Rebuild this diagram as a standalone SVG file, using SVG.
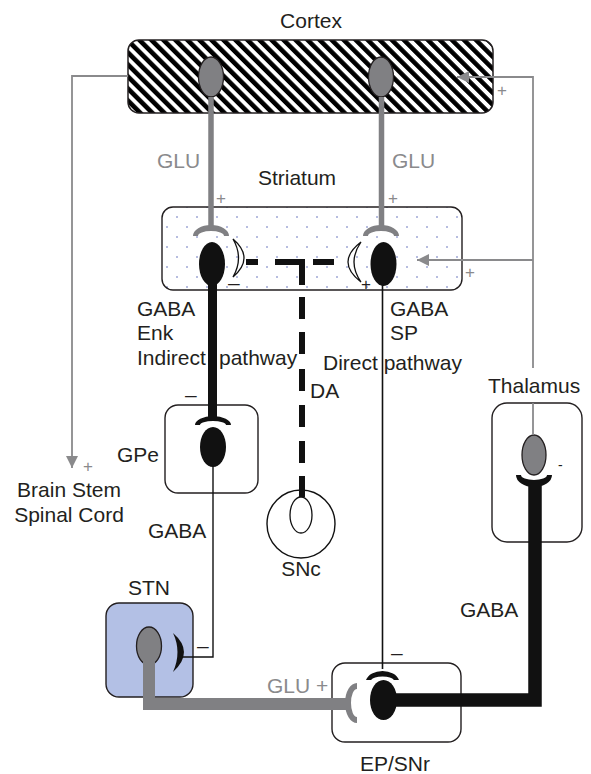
<svg xmlns="http://www.w3.org/2000/svg" width="591" height="774" viewBox="0 0 591 774">
<style>
text{font-family:"Liberation Sans",Arial,sans-serif;font-size:21px;fill:#231f20}
.g{fill:#8a8a8c}
.sm{font-size:17px}
.box{fill:#fff;stroke:#231f20;stroke-width:1.4}
.gn{fill:#808083;stroke:#231f20;stroke-width:1.3}
.bn{fill:#111;stroke:none}
.gl{fill:none;stroke:#8a8a8c;stroke-width:1.8}
.gc{fill:#808083}
.bc{fill:#111}
.wc{fill:#fff;stroke:#111;stroke-width:1.3}
</style>
<defs>
<pattern id="hatch" patternUnits="userSpaceOnUse" width="8.5" height="8.5" patternTransform="rotate(-45)">
<rect width="8.5" height="8.5" fill="#fff"/><rect width="4.6" height="8.5" fill="#000"/>
</pattern>
<pattern id="dots" patternUnits="userSpaceOnUse" width="20" height="20" x="2" y="2">
<rect width="20" height="20" fill="#fff"/><rect x="4" y="4" width="2" height="2" fill="#b7bde0"/><rect x="14" y="14" width="2" height="2" fill="#b7bde0"/>
</pattern>
<marker id="ga" viewBox="0 0 12 12" refX="12" refY="6" markerWidth="12" markerHeight="12" markerUnits="userSpaceOnUse" orient="auto">
<path d="M0,0 L12,6 L0,12 Z" fill="#8a8a8c"/>
</marker>
</defs>

<g id="cortex">
<rect x="128" y="40" width="365" height="73" rx="11" fill="url(#hatch)" stroke="#231f20" stroke-width="1.5"/>
<ellipse class="gn" cx="211" cy="77" rx="12.5" ry="20"/>
<ellipse class="gn" cx="381" cy="77" rx="12.5" ry="20"/>
<text x="311" y="28" text-anchor="middle">Cortex</text>
</g>

<g id="striatum">
<rect x="162" y="207" width="300" height="83" rx="11" fill="url(#dots)" stroke="#231f20" stroke-width="1.4"/>
<path class="gc" d="M193,236 A18,11 0 0 1 229,236 L224,236 A13,5 0 0 0 198,236 Z"/>
<path class="gc" d="M363,236 A18,11 0 0 1 399,236 L394,236 A13,5 0 0 0 368,236 Z"/>
<ellipse class="bn" cx="212" cy="264" rx="13" ry="22"/>
<ellipse class="bn" cx="383.5" cy="264" rx="13" ry="22"/>
<path class="wc" d="M233,239 Q255,258 233,277 Q244,258 233,239 Z"/>
<path class="wc" d="M361,242 Q335,262 361,282 Q347,262 361,242 Z"/>
<text x="297" y="185" text-anchor="middle">Striatum</text>
<text x="228" y="290">–</text>
<text x="361" y="290" class="sm">+</text>
</g>

<g id="gpe">
<rect class="box" x="165" y="405" width="93" height="88" rx="13"/>
<path class="bc" d="M195,425 A18,9 0 0 1 231,425 L226,425 A13,4 0 0 0 200,425 Z"/>
<ellipse class="bn" cx="213" cy="447" rx="13" ry="20"/>
<text x="117" y="462">GPe</text>
</g>

<g id="snc">
<circle cx="301" cy="524" r="34" fill="#fff" stroke="#111" stroke-width="1.4"/>
<ellipse cx="301" cy="515" rx="11" ry="18" fill="#fff" stroke="#111" stroke-width="1.3"/>
<text x="301" y="576" text-anchor="middle">SNc</text>
</g>

<g id="thalamus">
<rect class="box" x="492" y="403" width="90" height="139" rx="15"/>
<ellipse class="gn" cx="534" cy="455" rx="12" ry="20"/>
<path class="bc" d="M516,475 A18,12 0 0 0 552,475 L547,475 A13,5 0 0 1 521,475 Z"/>
<text x="488" y="393">Thalamus</text>
<text x="558" y="470" style="font-size:14px">-</text>
</g>

<g id="stn">
<rect x="106" y="603" width="87" height="94" rx="13" fill="#b3c0e5" stroke="#231f20" stroke-width="1.4"/>
<ellipse class="gn" cx="149" cy="646" rx="12.5" ry="19"/>
<path class="bc" d="M173,633 Q195,652 173,672 Q182,652 173,633 Z"/>
<text x="128" y="595">STN</text>
</g>

<g id="ep-snr">
<rect class="box" x="332" y="663" width="129" height="79" rx="13"/>
<path class="bc" d="M366,680 A17,12 0 0 1 399,680 L394,680 A12,5 0 0 0 371,680 Z"/>
<ellipse class="bn" cx="383.5" cy="700" rx="13.5" ry="20"/>
<path class="gc" d="M357,683 A12,20 0 0 0 357,723 L357,717 A6,14 0 0 1 357,689 Z"/>
<text x="395" y="771" text-anchor="middle">EP/SNr</text>
</g>

<g id="connectors">
<path class="gl" d="M128,76 H72 V468" marker-end="url(#ga)"/>
<path class="gl" d="M533,368 V77 H457" marker-end="url(#ga)"/>
<path class="gl" d="M533,260 H417" marker-end="url(#ga)"/>
<path class="gl" d="M533,403 V435"/>
<path d="M211,97 V226" stroke="#808083" stroke-width="5.5" fill="none"/>
<path d="M381.5,97 V226" stroke="#808083" stroke-width="5.5" fill="none"/>
<path d="M212.5,284 V418" stroke="#111" stroke-width="9" fill="none"/>
<path d="M382.5,284 V669" stroke="#111" stroke-width="1.6" fill="none"/>
<path d="M213,465 V657 H182" stroke="#111" stroke-width="1.4" fill="none"/>
<path d="M246,262 H258 M275,262 H302 V285 M313,262 H334 M302,297 V319 M302,332 V354 M302,369 V391 M302,405 V427 M302,441 V463 M302,476 V497" stroke="#111" stroke-width="6" fill="none"/>
<path d="M149,660 V704 H351" stroke="#808083" stroke-width="12" fill="none" stroke-linejoin="miter"/>
<path d="M535,486 V700 H395" stroke="#111" stroke-width="13.5" fill="none" stroke-linejoin="miter"/>
</g>

<g id="labels">
<text x="157" y="168" class="g">GLU</text>
<text x="392" y="168" class="g">GLU</text>
<text x="216" y="204" class="g sm">+</text>
<text x="388" y="204" class="g sm">+</text>
<text x="497" y="96" class="g sm">+</text>
<text x="465" y="278" class="g sm">+</text>
<text x="83" y="472" class="g sm">+</text>
<text x="137" y="316">GABA</text>
<text x="137" y="340">Enk</text>
<text x="137" y="365">Indirect</text>
<text x="219" y="365">pathway</text>
<text x="390" y="316">GABA</text>
<text x="390" y="340">SP</text>
<text x="323" y="370">Direct pathway</text>
<text x="310" y="398">DA</text>
<text x="185" y="402">–</text>
<text x="69" y="497" text-anchor="middle">Brain Stem</text>
<text x="69" y="522" text-anchor="middle">Spinal Cord</text>
<text x="148" y="538">GABA</text>
<text x="460" y="617">GABA</text>
<text x="197" y="653">–</text>
<text x="391" y="660">–</text>
<text x="267" y="693" class="g">GLU +</text>
</g>
</svg>
